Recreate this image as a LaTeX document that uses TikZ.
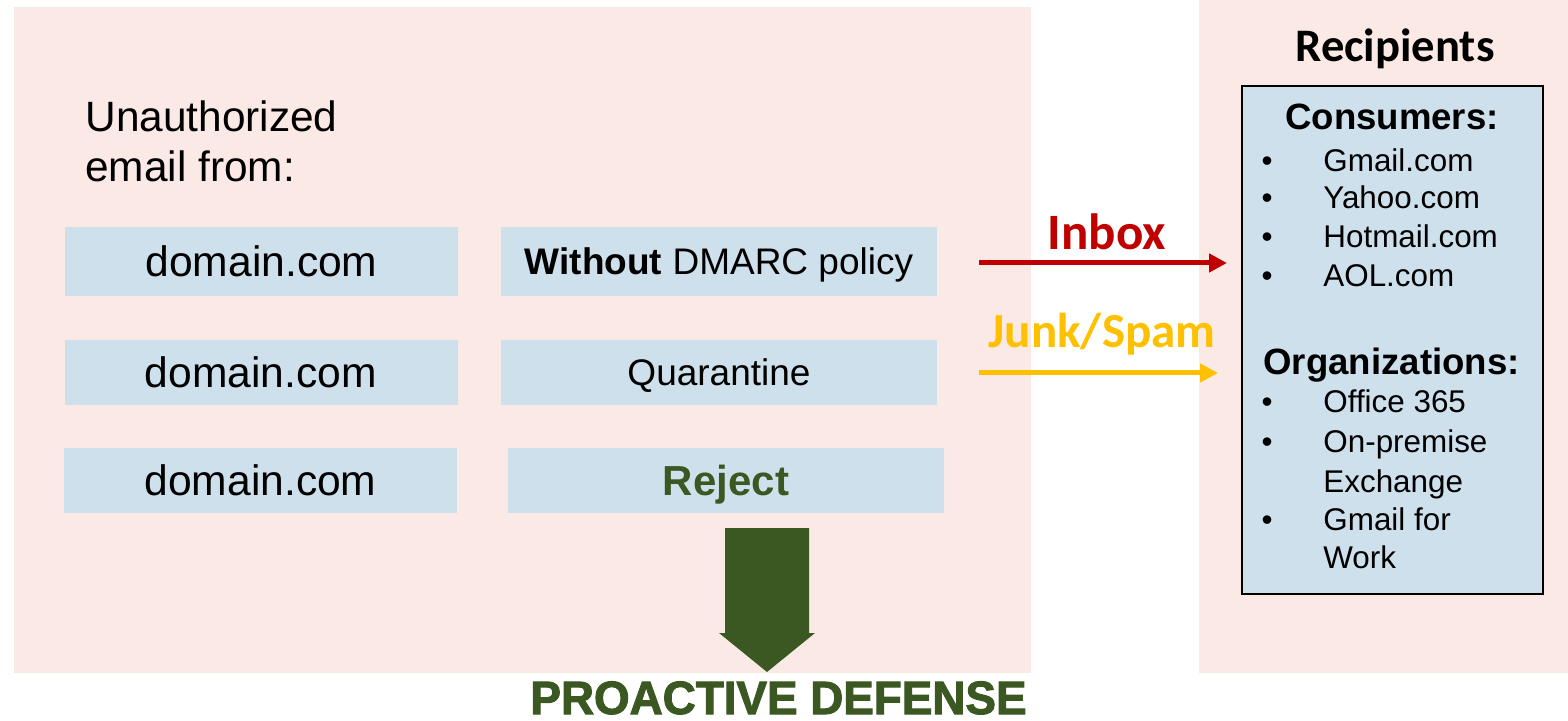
\documentclass[tikz,border=0pt]{standalone}
\usepackage{fontspec}
\setmainfont{Liberation Sans}
\newfontfamily\calibri{Carlito}
\newfontfamily\heavy{Liberation Sans}[BoldFeatures={FakeBold=2.2}]
\usepackage{graphicx}
\usepackage{tikz}
\usetikzlibrary{arrows.meta}

\definecolor{panelpink}{RGB}{251,233,230}
\definecolor{boxblue}{RGB}{206,224,235}
\definecolor{inboxred}{RGB}{192,0,0}
\definecolor{spamyellow}{RGB}{255,192,0}
\definecolor{defgreen}{RGB}{59,88,35}

\newcommand{\sz}[1]{\fontsize{#1}{#1}\selectfont}
\newcommand{\WO}{{\bfseries Without} DMARC policy}

\tikzset{
  mailbox/.style={fill=boxblue, inner sep=0pt, text depth=0pt, minimum height=34.5pt},
  srcbox/.style={mailbox, minimum width=196.5pt, font=\sz{21.3pt}},
  policybox/.style={mailbox, minimum width=218pt, font=\sz{18.5pt}},
  listitem/.style={anchor=base west, inner sep=0pt, font=\sz{15.7pt}},
  listdot/.style={anchor=base, inner sep=0pt, font=\sz{15.7pt}},
  route/.style={line width=2.5pt, -{Triangle[length=9pt,width=9pt]}}
}

\begin{document}
\begin{tikzpicture}[x=0.5pt,y=-0.5pt]
\useasboundingbox (0,0) rectangle (1568,721);
% panels
\fill[panelpink] (14,7) rectangle (1031,673);
\fill[panelpink] (1199,0) rectangle (1568,673);
%
\node (src) [anchor=north west, inner sep=0pt, align=left, font=\fontsize{21.2pt}{25pt}\selectfont]
  at (85,100) {Unauthorized\\email from:};

\node (d1) [srcbox] at (261.5,261.5) {domain.com};
\node (d2) [srcbox, minimum height=32.5pt] at (261,372.5) {domain.com};
\node (d3) [srcbox, minimum height=32.5pt] at (260.5,480.5) {domain.com};
\node (p1) [policybox] at (719,261.5) {\WO};
\node (p2) [policybox, minimum height=32.5pt] at (719,372.5) {Quarantine};
\node (p3) [policybox, minimum height=32.5pt, text=defgreen, font=\sz{21pt}\bfseries]
  at (726,480.5) {Reject};

% routes to the recipients
\coordinate (inboxA) at (979,263);
\coordinate (inboxB) at (1227,263);
\coordinate (spamA) at (979,373);
\coordinate (spamB) at (1218,373);
\node (inbox) [anchor=base, inner sep=0pt, text=inboxred, font=\calibri\bfseries\sz{25.5pt}]
  at (1107,250) {Inbox};
\node (spam) [anchor=base, inner sep=0pt, text=spamyellow, font=\calibri\bfseries\sz{24.5pt}]
  at (1102,348) {Junk/Spam};
\draw [route, inboxred] (inboxA) -- (inboxB);
\draw [route, spamyellow] (spamA) -- (spamB);

% recipients
\node (rec) [anchor=base, inner sep=0pt, font=\calibri\bfseries\sz{23.3pt}] at (1395,62) {Recipients};
\node (recbox) [draw, line width=1pt, fill=boxblue, inner sep=0pt,
  minimum width=150.5pt, minimum height=254pt] at (1392.5,340) {};
\node (cons) [anchor=base, inner sep=0pt, font=\bfseries\sz{18.3pt}] at (1392,130) {Consumers:};
\node (orgs) [anchor=base west, inner sep=0pt, font=\bfseries\sz{18.3pt}] at (1263,375) {Organizations:};
\foreach \txt/\yy in {Gmail.com/172, Yahoo.com/209, Hotmail.com/248, AOL.com/287,
  Office 365/413, On-premise/452, Exchange/492, Gmail for/530, Work/568}
  \node (item\yy) [listitem] at (1323,\yy) {\txt};
\foreach \yy in {172,209,248,287,413,452,530}
  \node (dot\yy) [listdot] at (1267,\yy) {\textbullet};

% block arrow down to the result
\fill[defgreen] (725,528) -- (809,528) -- (809,633) -- (815,633) -- (767,672)
  -- (719,633) -- (725,633) -- cycle;
\node (defense) [anchor=base, inner sep=0pt, text=defgreen, font=\heavy\bfseries\sz{21.2pt}]
  at (778.5,714) {\scalebox{1.08}[1.1]{PROACTIVE DEFENSE}};
\end{tikzpicture}
\end{document}
